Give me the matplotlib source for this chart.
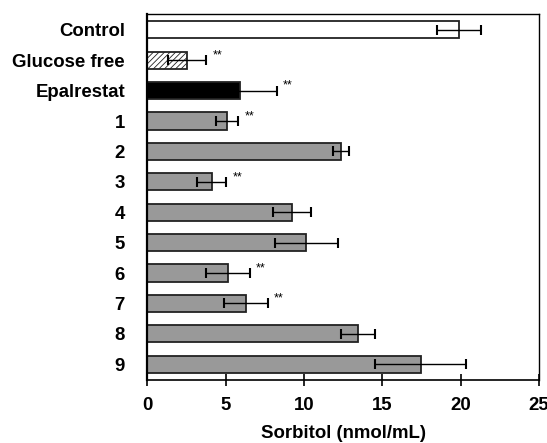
import numpy as np
import matplotlib.pyplot as plt

plt.rcParams['font.family'] = ['Liberation Sans', 'DejaVu Sans']
plt.rcParams['hatch.linewidth'] = 0.6

# Sorbitol levels (nmol/mL), top to bottom
labels = ["Control", "Glucose free", "Epalrestat", "1", "2", "3", "4", "5", "6", "7", "8", "9"]
means = [19.9, 2.55, 5.9, 5.1, 12.35, 4.1, 9.25, 10.15, 5.15, 6.3, 13.45, 17.45]
errs = [1.4, 1.2, 2.35, 0.7, 0.5, 0.95, 1.2, 2.0, 1.4, 1.4, 1.1, 2.9]
signif = [False, True, True, True, False, True, False, False, True, True, False, False]

fills = ["white", "white", "black"] + ["#999999"] * 9
hatches = ["", "//////", ""] + [""] * 9

fig = plt.figure(figsize=(5.47, 4.43), dpi=100)
ax = fig.add_axes([0.2693, 0.1422, 0.7161, 0.8262])

y = np.arange(len(labels))
for i in range(len(labels)):
    ax.barh(y[i], means[i], height=0.57, color=fills[i], edgecolor="#222222",
            linewidth=1.3, hatch=hatches[i], zorder=2)
ax.errorbar(means, y, xerr=errs, fmt="none", ecolor="black", elinewidth=1.0,
            capsize=3.3, capthick=1.5, zorder=3)

for i in range(len(labels)):
    if signif[i]:
        ax.annotate("**", (means[i] + errs[i], y[i]), xytext=(4.5, 3.5),
                    textcoords="offset points", ha="left", va="center",
                    fontsize=9)

ax.set_xlim(0, 25)
ax.set_ylim(11.52, -0.52)
ax.set_xticks([0, 5, 10, 15, 20, 25])
ax.set_yticks(y)
ax.set_yticklabels(labels, fontsize=13.4, fontweight="bold")
ax.tick_params(axis="y", length=0, pad=16)
ax.tick_params(axis="x", direction="inout", length=8, width=1.2, pad=8,
               labelsize=13.4)
for lab in ax.get_xticklabels():
    lab.set_fontweight("bold")
ax.set_xlabel("Sorbitol (nmol/mL)", fontsize=13.4, fontweight="bold", labelpad=8)

ax.spines["left"].set_linewidth(1.6)
ax.spines["bottom"].set_linewidth(1.2)
ax.spines["top"].set_linewidth(1.0)
ax.spines["right"].set_linewidth(1.0)

fig.savefig("out.png", dpi=100)
